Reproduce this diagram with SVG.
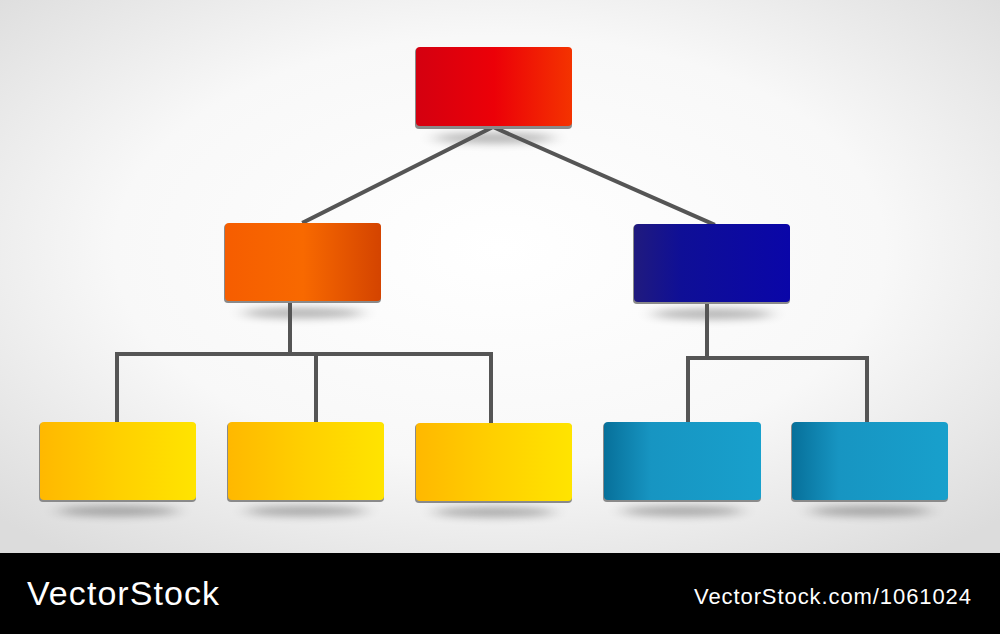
<svg xmlns="http://www.w3.org/2000/svg" width="1000" height="634" viewBox="0 0 1000 634">
<style>
.conn{stroke:#555;stroke-width:4;fill:none;stroke-linecap:square}
.edge{fill:#8a8a8a}
.sh{fill:#000;opacity:0.3;filter:url(#blur)}
.wm{font-family:"Liberation Sans",Arial,sans-serif;fill:#fff}
</style>
<defs>
<radialGradient id="bg" cx="50%" cy="45%" r="70%">
<stop offset="0" stop-color="#ffffff"/>
<stop offset="0.55" stop-color="#f8f8f8"/>
<stop offset="1" stop-color="#dcdcdc"/>
</radialGradient>
<linearGradient id="gRed"><stop offset="0" stop-color="#d40010"/><stop offset="0.5" stop-color="#ec0008"/><stop offset="1" stop-color="#f43300"/></linearGradient>
<linearGradient id="gOrange"><stop offset="0" stop-color="#f65d00"/><stop offset="0.5" stop-color="#f86900"/><stop offset="1" stop-color="#d44400"/></linearGradient>
<linearGradient id="gBlue"><stop offset="0" stop-color="#201a7e"/><stop offset="0.3" stop-color="#0f0f96"/><stop offset="1" stop-color="#0a06a8"/></linearGradient>
<linearGradient id="gYellow"><stop offset="0" stop-color="#ffb800"/><stop offset="0.5" stop-color="#ffd000"/><stop offset="1" stop-color="#ffe400"/></linearGradient>
<linearGradient id="gTeal"><stop offset="0" stop-color="#07709a"/><stop offset="0.3" stop-color="#1795c2"/><stop offset="1" stop-color="#18a0cc"/></linearGradient>
<filter id="blur" x="-30%" y="-300%" width="160%" height="700%"><feGaussianBlur stdDeviation="9 4"/></filter>
</defs>
<rect x="0" y="0" width="1000" height="553" fill="url(#bg)"/>

<g id="shadows">
<ellipse class="sh" cx="494" cy="138" rx="60" ry="5"/>
<ellipse class="sh" cx="303" cy="313" rx="60" ry="5"/>
<ellipse class="sh" cx="712" cy="314" rx="60" ry="5"/>
<ellipse class="sh" cx="118" cy="511" rx="60" ry="5"/>
<ellipse class="sh" cx="306" cy="511" rx="60" ry="5"/>
<ellipse class="sh" cx="494" cy="512" rx="60" ry="5"/>
<ellipse class="sh" cx="682" cy="511" rx="60" ry="5"/>
<ellipse class="sh" cx="870" cy="511" rx="60" ry="5"/>
</g>

<g id="connectors">
<polyline class="conn" points="304,222 493,127 713,224"/>
<polyline class="conn" points="290,301 290,354"/>
<polyline class="conn" points="117,422 117,354 491,354 491,422"/>
<polyline class="conn" points="316,354 316,422"/>
<polyline class="conn" points="707,302 707,358"/>
<polyline class="conn" points="688,422 688,358 867,358 867,422"/>
</g>

<g id="node-top">
<rect class="edge" x="415" y="48" width="157" height="81" rx="4"/>
<rect x="416" y="47" width="156" height="79" rx="4" fill="url(#gRed)"/>
</g>
<g id="node-left">
<rect class="edge" x="224" y="224" width="157" height="79" rx="4"/>
<rect x="225" y="223" width="156" height="78" rx="4" fill="url(#gOrange)"/>
</g>
<g id="node-right">
<rect class="edge" x="633" y="225" width="157" height="79" rx="4"/>
<rect x="634" y="224" width="156" height="78" rx="4" fill="url(#gBlue)"/>
</g>
<g id="node-y1">
<rect class="edge" x="39" y="423" width="157" height="79" rx="4"/>
<rect x="40" y="422" width="156" height="78" rx="4" fill="url(#gYellow)"/>
</g>
<g id="node-y2">
<rect class="edge" x="227" y="423" width="157" height="79" rx="4"/>
<rect x="228" y="422" width="156" height="78" rx="4" fill="url(#gYellow)"/>
</g>
<g id="node-y3">
<rect class="edge" x="415" y="424" width="157" height="79" rx="4"/>
<rect x="416" y="423" width="156" height="78" rx="4" fill="url(#gYellow)"/>
</g>
<g id="node-t1">
<rect class="edge" x="603" y="423" width="158" height="79" rx="4"/>
<rect x="604" y="422" width="157" height="78" rx="4" fill="url(#gTeal)"/>
</g>
<g id="node-t2">
<rect class="edge" x="791" y="423" width="157" height="79" rx="4"/>
<rect x="792" y="422" width="156" height="78" rx="4" fill="url(#gTeal)"/>
</g>

<g id="footer">
<rect x="0" y="553" width="1000" height="81" fill="#000"/>
<text class="wm" x="27" y="605" font-size="34" textLength="192">VectorStock</text>
<text class="wm" x="694" y="604" font-size="22" textLength="277">VectorStock.com/1061024</text>
</g>
</svg>
